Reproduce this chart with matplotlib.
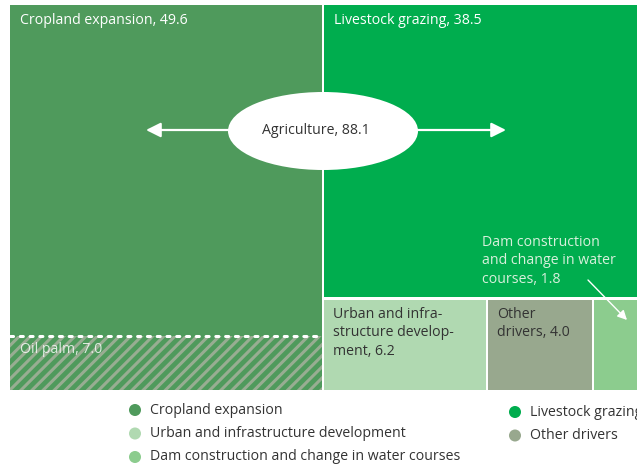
import matplotlib
matplotlib.use('Agg')
import matplotlib.pyplot as plt
from matplotlib.patches import Rectangle, Ellipse

# drivers of habitat loss (share, %)
cropland = 49.6
oil_palm = 7.0
livestock = 38.5
bottom_names = ['Urban and infra-\nstructure develop-\nment', 'Other\ndrivers', '']
bottom_vals = [6.2, 4.0, 1.8]
agriculture = 88.1

legend_left = ['Cropland expansion', 'Urban and infrastructure development',
               'Dam construction and change in water courses']
legend_right = ['Livestock grazing', 'Other drivers']

c_crop = '#4f9a5c'
c_live = '#00ad4e'
c_urban = '#b0d9b1'
c_other = '#98a88e'
c_dam = '#8ccc8e'
c_hatch = '#98ad92'
bottom_cols = [c_urban, c_other, c_dam]

FS = 10.2
plt.rcParams['font.family'] = ['Open Sans', 'DejaVu Sans']
plt.rcParams['hatch.linewidth'] = 2.2
plt.rcParams['hatch.color'] = c_hatch

fig = plt.figure(figsize=(6.37, 4.69), dpi=100)
ax = fig.add_axes([0, 0, 1, 1])
ax.set_xlim(0, 637)
ax.set_ylim(469, 0)
ax.axis('off')

x0, y0, W, H = 10, 5, 632, 385
gap = 2.5
total = cropland + livestock + sum(bottom_vals)

# left column: cropland (with oil palm at bottom)
wl = W * cropland / total
ax.add_patch(Rectangle((x0, y0), wl - gap / 2, H, facecolor=c_crop, edgecolor='none'))
hp = H * oil_palm / cropland
ax.add_patch(Rectangle((x0, y0 + H - hp), wl - gap / 2, hp, facecolor=c_crop,
                       edgecolor=c_hatch, hatch='///', linewidth=0))
ax.plot([x0, x0 + wl - gap / 2], [y0 + H - hp, y0 + H - hp], color='white',
        linestyle=(0, (1, 2.2)), linewidth=2.2, dash_capstyle='round')
ax.text(x0 + 10, y0 + 15, 'Cropland expansion, %.1f' % cropland, color='white',
        fontsize=FS, va='center')
ax.text(x0 + 10, y0 + H - hp + 14, 'Oil palm, %.1f' % oil_palm, color='white',
        fontsize=FS, va='center', alpha=0.8)

# right column
xr = x0 + wl + gap / 2
wr = W - wl - gap / 2
rest = livestock + sum(bottom_vals)
hl = H * livestock / rest
ax.add_patch(Rectangle((xr, y0), 700, hl - gap / 2, facecolor=c_live, edgecolor='none'))
ax.text(xr + 10, y0 + 15, 'Livestock grazing, %.1f' % livestock, color='white',
        fontsize=FS, va='center')

yb = y0 + hl + gap / 2
hb = H - hl - gap / 2
bx = xr
for name, v, col in zip(bottom_names, bottom_vals, bottom_cols):
    w = wr * v / sum(bottom_vals)
    ax.add_patch(Rectangle((bx, yb), w - gap, hb, facecolor=col, edgecolor='none'))
    if name:
        ax.text(bx + 9, yb + 7, '%s, %.1f' % (name, v), color='#333333',
                fontsize=FS, va='top', linespacing=1.32)
    bx += w

# dam label + arrow
ax.text(482, 235, 'Dam construction\nand change in water\ncourses, %.1f' % bottom_vals[2],
        color='#d8f0dc', fontsize=FS, va='top', linespacing=1.3)
ax.annotate('', xy=(627, 320), xytext=(588, 280),
            arrowprops=dict(arrowstyle='-|>', color='white', lw=1,
                            mutation_scale=14, shrinkA=0, shrinkB=0))

# agriculture ellipse with arrows
ax.annotate('', xy=(146, 130), xytext=(235, 130),
            arrowprops=dict(arrowstyle='-|>', color='white', lw=1.6,
                            mutation_scale=22, shrinkA=0, shrinkB=0))
ax.annotate('', xy=(506, 130), xytext=(412, 130),
            arrowprops=dict(arrowstyle='-|>', color='white', lw=1.6,
                            mutation_scale=22, shrinkA=0, shrinkB=0))
ax.add_patch(Ellipse((323, 131), 190, 78, facecolor='white', edgecolor='none'))
ax.text(316, 130, 'Agriculture, %.1f' % agriculture, color='#333333', fontsize=FS,
        ha='center', va='center')

# legend (right column runs off the edge, as in the original)
leg_cols_left = [c_crop, c_urban, c_dam]
for i, (lab, col) in enumerate(zip(legend_left, leg_cols_left)):
    y = 410 + i * 23.5
    ax.scatter([135], [y], s=75, color=col, edgecolor='none')
    ax.text(150, y, lab, fontsize=FS, color='#333333', va='center')
leg_cols_right = [c_live, c_other]
for i, (lab, col) in enumerate(zip(legend_right, leg_cols_right)):
    y = 412 + i * 23.5
    ax.scatter([515], [y], s=75, color=col, edgecolor='none')
    ax.text(530, y, lab, fontsize=FS, color='#333333', va='center')

fig.savefig('out.png', dpi=100)
